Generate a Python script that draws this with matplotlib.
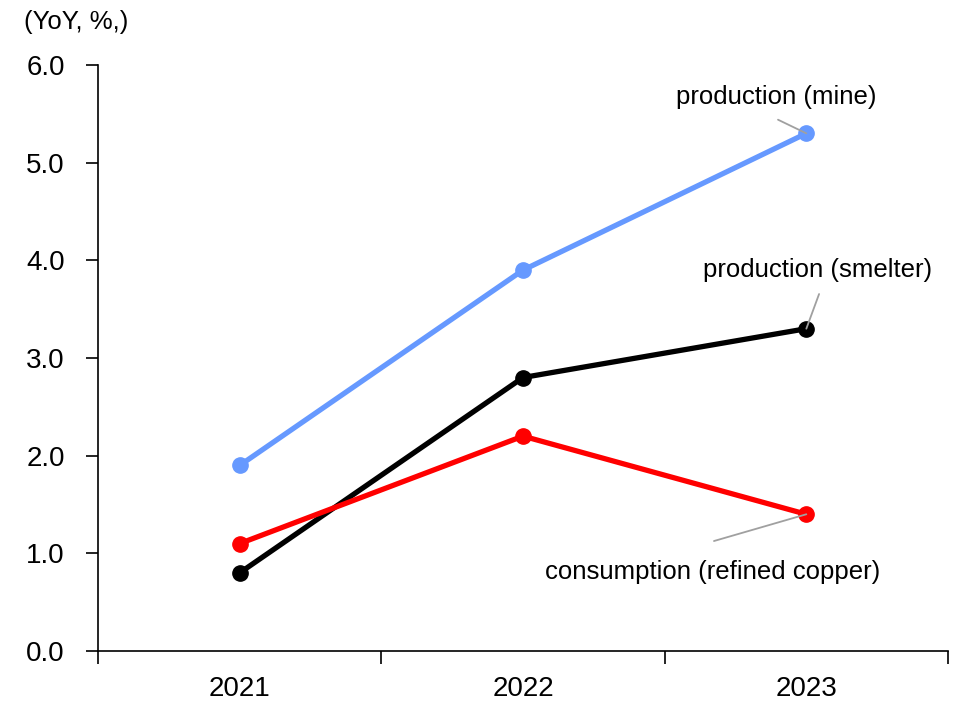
import numpy as np
import matplotlib.pyplot as plt

plt.rcParams['font.family'] = ['Liberation Sans', 'DejaVu Sans']

# Data
years = ['2021', '2022', '2023']
mine = [1.9, 3.9, 5.3]
smelter = [0.8, 2.8, 3.3]
consumption = [1.1, 2.2, 1.4]

x = np.arange(len(years))

fig = plt.figure(figsize=(9.56, 7.03), dpi=100)
ax = fig.add_axes([98 / 956, 1 - 651 / 703, 850 / 956, 586 / 703])

ax.plot(x, mine, color='#6699FF', lw=3.8, marker='o', ms=11)
ax.plot(x, smelter, color='black', lw=3.8, marker='o', ms=11)
ax.plot(x, consumption, color='#FF0000', lw=3.8, marker='o', ms=11)

ax.set_xlim(-0.5, 2.5)
ax.set_ylim(0, 6)
yt = np.arange(0, 6.1, 1.0)
ax.set_yticks(yt)
ax.set_yticklabels([f'{v:.1f}' for v in yt])
ax.set_xticks(x)
ax.set_xticklabels(years)
ax.set_xticks([-0.5, 0.5, 1.5, 2.5], minor=True)
ax.tick_params(axis='x', which='major', length=0, pad=18, labelsize=20)
ax.tick_params(axis='x', which='minor', length=9, width=1.2, direction='out')
ax.tick_params(axis='y', length=9, width=1.2, direction='out', labelsize=20, pad=15)

for s in ['top', 'right']:
    ax.spines[s].set_visible(False)
for s in ['left', 'bottom']:
    ax.spines[s].set_linewidth(1.2)

fig.text(24 / 956, 1 - 22 / 703, '(YoY, %,)', fontsize=18.5, va='center', ha='left')

# Labels with grey leader lines
lead = dict(arrowstyle='-', color='#A0A0A0', lw=1.3, shrinkA=0, shrinkB=0)
ax.text(1.893, 5.672, 'production (mine)', fontsize=18.5, ha='center', va='center')
ax.annotate('', xy=(x[2], mine[2]), xytext=(1.90, 5.44), arrowprops=lead)
ax.text(2.041, 3.90, 'production (smelter)', fontsize=18.5, ha='center', va='center')
ax.annotate('', xy=(x[2], smelter[2]), xytext=(2.045, 3.655), arrowprops=lead)
ax.text(1.671, 0.809, 'consumption (refined copper)', fontsize=18.5, ha='center', va='center')
ax.annotate('', xy=(x[2], consumption[2]), xytext=(1.674, 1.126), arrowprops=lead)

fig.savefig('out.png', dpi=100)
